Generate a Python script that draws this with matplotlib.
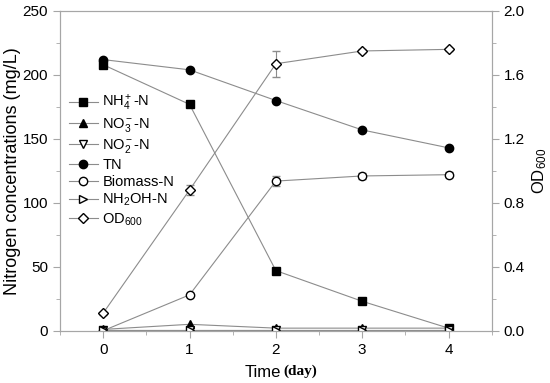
import matplotlib
matplotlib.use('Agg')
import matplotlib.pyplot as plt
import numpy as np

#%% Einstellungen
plt.rcParams['font.family'] = ['Liberation Sans', 'DejaVu Sans']
plt.rcParams['mathtext.fontset'] = 'custom'
plt.rcParams['mathtext.rm'] = 'Liberation Sans'
plt.rcParams['mathtext.it'] = 'Liberation Sans'

gray_line = (0.55, 0.55, 0.55)
gray_axis = (0.65, 0.65, 0.65)

#%% Daten
days = [0, 1, 2, 3, 4]
nh4 = [208, 177, 47, 23, 2]
no3 = [1, 5, 2, 2, 2]
no2 = [0.5, 0.5, 0.5, 0.5, 0.5]
tn = [212, 204, 180, 157, 143]
biomass = [0, 28, 117, 121, 122]
biomass_err = [0, 1, 4, 2, 2]
nh2oh = [0.3, 0.3, 0.3, 0.3, 0.3]
od600 = [0.11, 0.88, 1.67, 1.75, 1.76]
od600_err = [0.01, 0.03, 0.08, 0.01, 0.01]

labels = ['NH$_4^+$-N', 'NO$_3^-$-N', 'NO$_2^-$-N', 'TN', 'Biomass-N',
          'NH$_2$OH-N', 'OD$_{600}$']

#%% Plot
fig = plt.figure(figsize=(5.5, 3.83), dpi=100)
ax = fig.add_axes([60/550, 1-330.7/383, 431.7/550, 319.7/383])
ax2 = ax.twinx()

kw = dict(color=gray_line, lw=0.8, mec='black', ms=6)
h1, = ax.plot(days, nh4, marker='s', mfc='black', **kw)
h2, = ax.plot(days, no3, marker='^', mfc='black', **kw)
h3, = ax.plot(days, no2, marker='v', mfc='white', **kw)
h4, = ax.plot(days, tn, marker='o', mfc='black', **kw)
ax.errorbar(days, biomass, yerr=biomass_err, fmt='none', ecolor=gray_line,
            elinewidth=0.8, capsize=3)
h5, = ax.plot(days, biomass, marker='o', mfc='white', **kw)
h6, = ax.plot(days, nh2oh, marker='>', mfc='white', **kw)
ax2.errorbar(days, od600, yerr=od600_err, fmt='none', ecolor=gray_line,
             elinewidth=0.8, capsize=3)
h7, = ax2.plot(days, od600, marker='D', mfc='white', color=gray_line,
               lw=0.8, mec='black', ms=5.5)

ax.set_xlim(-0.5, 4.5)
ax.set_ylim(0, 250)
ax2.set_ylim(0, 2.0)
ax.set_xticks(days)
ax.set_xticks(np.arange(-0.5, 4.6, 0.5), minor=True)
ax.set_yticks(np.arange(0, 251, 50))
ax.set_yticks(np.arange(0, 251, 25), minor=True)
ax2.set_yticks(np.arange(0, 2.01, 0.4))
ax2.set_yticks(np.arange(0, 2.01, 0.2), minor=True)
ax2.set_yticklabels(['%.1f' % v for v in np.arange(0, 2.01, 0.4)])

for a in (ax, ax2):
    for s in a.spines.values():
        s.set_color(gray_axis)
        s.set_linewidth(0.8)
    a.tick_params(which='both', direction='out', color=gray_axis, labelsize=11)
    a.tick_params(which='major', length=5)
    a.tick_params(which='minor', length=3)
ax.tick_params(axis='x', which='major', pad=4)

ax.set_ylabel('Nitrogen concentrations (mg/L)', fontsize=13, labelpad=1)
ax2.set_ylabel('OD$_{600}$', fontsize=12, labelpad=4)

ax.text(0.512, -0.132, 'Time', transform=ax.transAxes, ha='right',
        va='center', fontsize=12)
ax.text(0.518, -0.128, '(day)', transform=ax.transAxes, ha='left',
        va='center', fontsize=11, family='Liberation Serif', weight='bold')

ax.legend([h1, h2, h3, h4, h5, h6, h7], labels, loc='upper left',
          bbox_to_anchor=(0.0, 0.77), frameon=False, fontsize=10.5,
          handlelength=2.0, handletextpad=0.3, labelspacing=0.2,
          borderaxespad=0.2)

plt.savefig('out.png', dpi=100)
